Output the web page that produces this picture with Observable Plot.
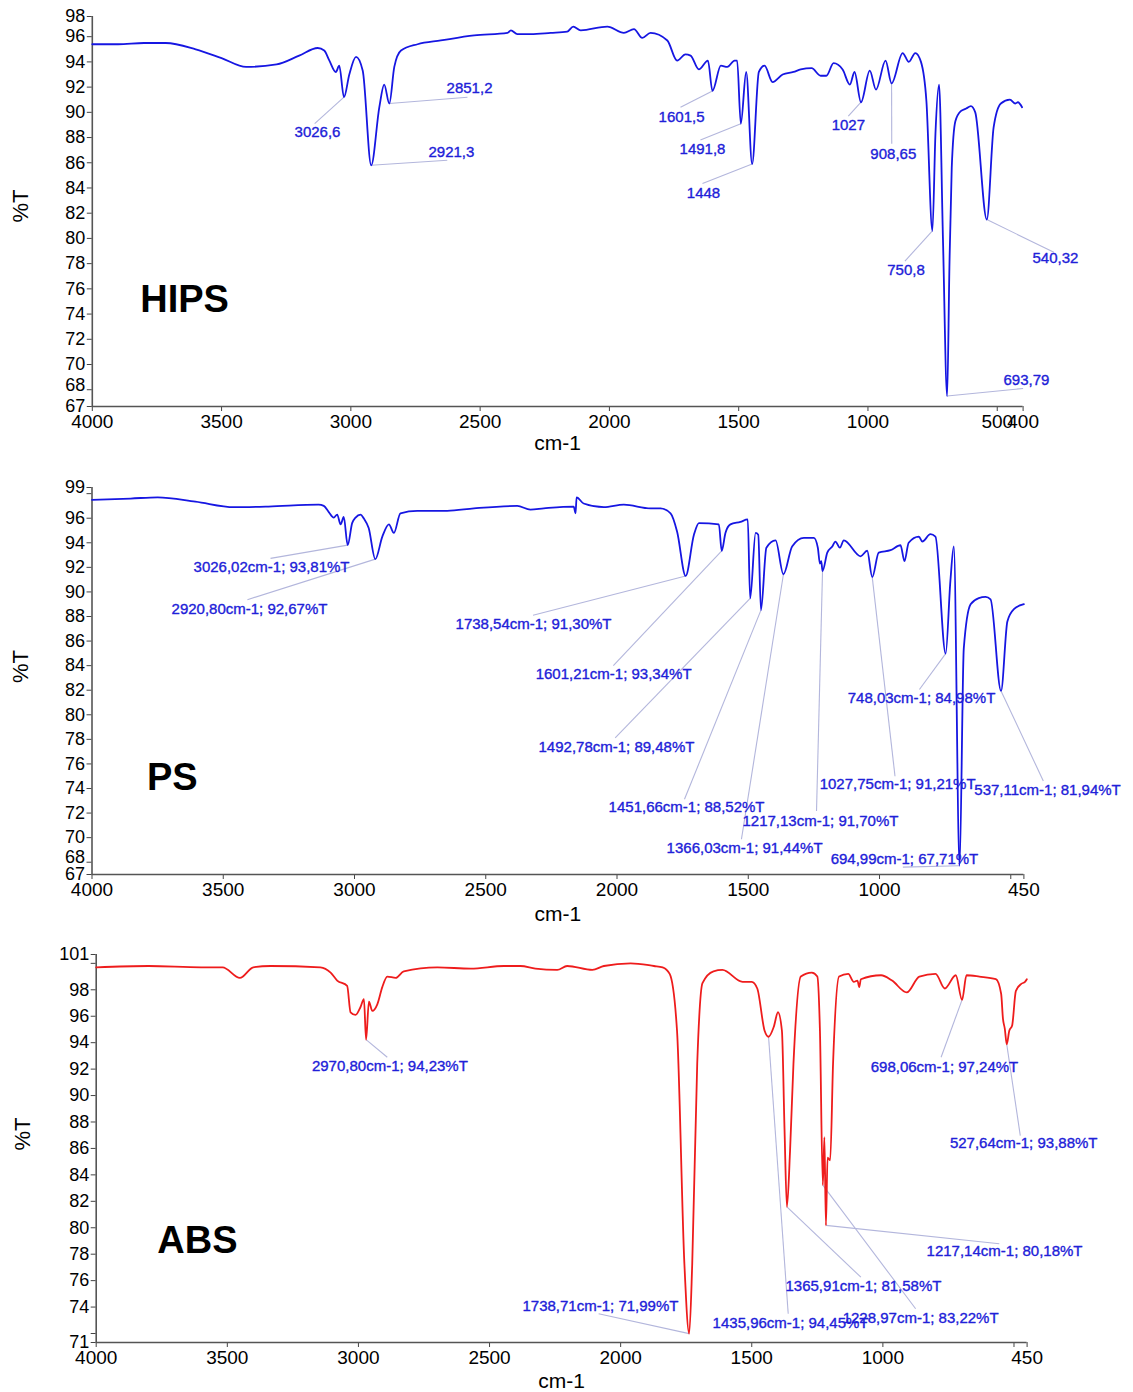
<!DOCTYPE html>
<html><head><meta charset="utf-8">
<script src="https://cdn.jsdelivr.net/npm/d3@7"></script>
<script src="https://cdn.jsdelivr.net/npm/@observablehq/plot@0.6"></script>
<style>
body{margin:0;background:#fff;width:1133px;}
#chart svg{display:block;}
</style></head><body><div id="chart"></div>
<script>
// ---------- HIPS ----------
const hipsWave = [4000,3900,3800,3716,3600,3500,3405,3287,3200,3128,3103,3083,3058,3045,3026.6,3006,2980,2954,2921.3,2890,2871,2851.2,2832,2806,2742,2652,2523,2394,2381,2356,2304,2227,2163,2140,2111,2008,1944,1905,1873,1841,1776,1738,1706,1686,1654,1619,1601.5,1569,1544,1516,1506,1491.8,1471,1448,1422,1400,1369,1330,1288,1260,1218,1183,1161,1133,1098,1070,1052,1027,993,969,932,908.65,866,842,817,795,774,750.8,739,725,710,693.79,685,676,662,641,620,602,585,540.32,514,486,451,430,420,404];
const hipsT = [95.4,95.4,95.5,95.5,95.0,94.3,93.6,93.8,94.5,95.1,94.9,94.1,93.2,93.7,91.2,93.0,94.4,93.3,85.8,90.4,92.2,90.7,93.6,94.9,95.4,95.7,96.1,96.3,96.5,96.2,96.2,96.3,96.4,96.8,96.5,96.8,96.3,96.6,95.9,96.3,95.7,94.1,94.6,94.5,93.4,94.1,91.7,93.7,93.6,94.1,94.1,89.1,93.2,85.9,93.2,93.7,92.4,93.0,93.2,93.4,93.5,92.9,92.9,93.9,93.4,92.2,93.2,90.8,93.3,91.8,94.1,92.3,94.7,94.0,94.7,94.0,90.9,80.6,88.3,92.2,80.0,67.5,77.7,85.6,89.3,90.1,90.3,90.5,90.0,81.5,88.8,90.7,91.0,90.7,90.8,90.4];
const hipsLabels = ["3026,6","2921,3","2851,2","1601,5","1491,8","1448","1027","908,65","750,8","540,32","693,79"];
const hipsPeakWave = [3026.6,2921.3,2851.2,1601.5,1491.8,1448,1027,908.65,750.8,540.32,693.79];
const hipsPeakT = [91.2,85.8,90.7,91.7,89.1,85.9,90.8,92.3,80.6,81.5,67.5];
const hipsLeadWave = [3140,2627,2549,1725,1648,1640,1076,908,857,281,400];
const hipsLeadT = [89.1,86.2,91.2,90.4,87.8,84.35,89.7,87.5,78.2,78.9,68.1];
const hipsLabelWave = [3129,2611,2541,1721,1640,1636,1076,902,853,275,387];
const hipsLabelT = [88.4,86.8,91.9,89.6,87.1,83.55,89.0,86.65,77.5,78.4,68.75];
const hipsXTicks = [4000,3500,3000,2500,2000,1500,1000,500,400];
const hipsXTickLabels = ["4000","3500","3000","2500","2000","1500","1000","500","400"];
const hipsYTicks = [66.67,68,70,72,74,76,78,80,82,84,86,88,90,92,94,96,97.6];
const hipsYTickLabels = ["67","68","70","72","74","76","78","80","82","84","86","88","90","92","94","96","98"];

// ---------- PS ----------
const psWave = [4000,3853,3750,3606,3459,3328,3137,3117,3098,3079,3066,3053,3041,3026.02,3009,2996,2977,2965,2946,2920.8,2894,2869,2850,2825,2761,2647,2545,2380,2330,2279,2165,2158,2154,2127,2050,1974,1872,1834,1796,1771,1738.54,1707,1688,1612,1601.21,1587,1568,1530,1502,1492.78,1472,1462,1451.66,1431,1396,1366.03,1333,1288,1250,1235,1227,1222,1217.13,1199,1180,1168,1151,1136,1072,1047,1027.75,1003,958,920,905,889,850,837,806,787,748.03,730,717,694.99,679,653,622,596,577,537.11,513,488,450];
const psT = [97.5,97.6,97.7,97.35,96.9,96.95,97.1,97.0,96.5,96.05,96.3,95.5,96.1,93.81,95.6,96.05,96.3,96.0,95.2,92.67,94.5,95.5,94.8,96.4,96.6,96.6,96.8,97.0,96.7,96.8,96.95,96.4,97.7,97.2,96.9,97.1,96.8,96.8,96.4,94.9,91.3,94.65,95.6,95.5,93.34,94.8,95.5,95.7,95.9,89.48,94.8,94.65,88.52,93.6,94.2,91.44,93.7,94.4,94.4,93.6,92.3,92.5,91.7,93.2,93.7,94.1,93.6,94.2,92.9,93.35,91.21,93.2,93.4,93.8,92.5,94.0,94.5,94.1,94.7,94.5,84.98,90.9,93.7,67.71,85.4,89.0,89.5,89.6,89.4,81.94,87.6,88.6,89.0];
const psLabels = ["3026,02cm-1; 93,81%T","2920,80cm-1; 92,67%T","1738,54cm-1; 91,30%T","1601,21cm-1; 93,34%T","1492,78cm-1; 89,48%T","1451,66cm-1; 88,52%T","1366,03cm-1; 91,44%T","1217,13cm-1; 91,70%T","1027,75cm-1; 91,21%T","748,03cm-1; 84,98%T","537,11cm-1; 81,94%T","694,99cm-1; 67,71%T"];
const psPeakWave = [3026.02,2920.8,1738.54,1601.21,1492.78,1451.66,1366.03,1217.13,1027.75,748.03,537.11,694.99];
const psPeakT = [93.81,92.67,91.3,93.34,89.48,88.52,91.44,91.7,91.21,84.98,81.94,67.71];
const psLeadWave = [3320,3408,2320,2014,2007,1743,1526,1240,941,848,376,911];
const psLeadT = [92.73,89.37,88.1,84.0,78.13,73.12,69.87,72.17,75.0,82.06,74.61,67.6];
const psLabelWave = [3316,3400,2318,2013,2002,1735,1514,1225,931,840,360,905];
const psLabelT = [92.0,88.6,87.36,83.3,77.37,72.5,69.17,71.36,74.37,81.35,73.9,68.27];
const psXTicks = [4000,3500,3000,2500,2000,1500,1000,500,450];
const psXTickLabels = ["4000","3500","3000","2500","2000","1500","1000","","450"];
const psYTicks = [67,68,70,72,74,76,78,80,82,84,86,88,90,92,94,96,98,98.5];
const psYTickLabels = ["67","68","70","72","74","76","78","80","82","84","86","88","90","92","94","96","","99"];

// ---------- ABS ----------
const absWave = [4000,3800,3600,3518,3452,3401,3335,3145,3106,3081,3043,3030,3011,2992,2979,2970.8,2960,2947,2928,2909,2890,2858,2827,2699,2572,2445,2382,2325,2242,2204,2108,2064,1962,1873,1840,1813,1785,1757,1738.71,1727,1708,1688,1646,1612,1535,1500,1479,1451,1435.96,1416,1400,1385,1375,1365.91,1354,1341,1313,1271,1250,1240,1228.97,1223,1217.14,1211,1201,1190,1167,1132,1111,1097,1090,1084,1007,965,909,861,799,764,722,698.06,681,632,569,549,542,535,527.64,518,507,493,472,458,451];
const absT = [99.7,99.8,99.7,99.7,98.9,99.7,99.8,99.7,99.3,98.7,98.3,96.3,96.1,96.7,97.3,94.23,97.1,96.4,96.9,98.2,99.0,98.9,99.4,99.7,99.6,99.8,99.8,99.6,99.5,99.8,99.5,99.8,100.0,99.8,99.7,99.2,94.9,77.3,71.99,77.3,92.4,98.5,99.4,99.5,98.6,98.6,98.1,94.9,94.45,95.2,96.3,94.9,87.4,81.58,85.8,92.4,99.0,99.3,99.0,94.9,83.22,86.85,80.18,85.3,85.1,92.4,99.0,99.2,98.6,98.7,98.2,98.8,99.1,98.7,97.8,99.0,99.2,98.1,99.1,97.24,99.1,99.0,98.8,97.7,95.8,95.05,93.88,94.9,95.3,97.9,98.45,98.6,98.8,98.65];
const absLabels = ["2970,80cm-1; 94,23%T","1738,71cm-1; 71,99%T","1435,96cm-1; 94,45%T","1365,91cm-1; 81,58%T","1228,97cm-1; 83,22%T","1217,14cm-1; 80,18%T","698,06cm-1; 97,24%T","527,64cm-1; 93,88%T"];
const absPeakWave = [2970.8,1738.71,1435.96,1365.91,1228.97,1217.14,698.06,527.64];
const absPeakT = [94.23,71.99,94.45,81.58,83.22,80.18,97.24,93.88];
const absLeadWave = [2890,2084,1361,1084,875,556,778,476];
const absLeadT = [92.9,73.49,73.49,76.26,73.87,78.79,92.9,86.97];
const absLabelWave = [2880,2077,1352,1074,856,536,765,463];
const absLabelT = [92.2,74.1,72.76,75.56,73.13,78.2,92.12,86.37];
const absXTicks = [4000,3500,3000,2500,2000,1500,1000,500,450];
const absXTickLabels = ["4000","3500","3000","2500","2000","1500","1000","","450"];
const absYTicks = [71.32,72,74,76,78,80,82,84,86,88,90,92,94,96,98,100,100.67];
const absYTickLabels = ["71","","74","76","78","80","82","84","86","88","90","92","94","96","98","","101"];

const panels = [
  {name:"HIPS", wave:hipsWave, t:hipsT, color:"#1616e2", labels:hipsLabels, pw:hipsPeakWave, pt:hipsPeakT, lw:hipsLeadWave, lt:hipsLeadT, tw:hipsLabelWave, tt:hipsLabelT,
   xTicks:hipsXTicks, xTickLabels:hipsXTickLabels, yTicks:hipsYTicks, yTickLabels:hipsYTickLabels, raise:68, raiseDy:-4,
   xDomain:[4000,400], yDomain:[66.67,97.6], height:465, mt:16, mb:59, ml:91.8, mr:110.4, nameW:3643, nameT:75.1, ylabDy:11, ylabDx:-71, xlabDy:37},
  {name:"PS", wave:psWave, t:psT, color:"#1616e2", labels:psLabels, pw:psPeakWave, pt:psPeakT, lw:psLeadWave, lt:psLeadT, tw:psLabelWave, tt:psLabelT,
   xTicks:psXTicks, xTickLabels:psXTickLabels, yTicks:psYTicks, yTickLabels:psYTickLabels, raise:68, raiseDy:-5,
   xDomain:[4000,450], yDomain:[67,98.5], height:465, mt:22, mb:56, ml:91.5, mr:109.6, nameW:3694, nameT:74.9, ylabDy:2, ylabDx:-71, xlabDy:40},
  {name:"ABS", wave:absWave, t:absT, color:"#ee1c1c", labels:absLabels, pw:absPeakWave, pt:absPeakT, lw:absLeadWave, lt:absLeadT, tw:absLabelWave, tt:absLabelT,
   xTicks:absXTicks, xTickLabels:absXTickLabels, yTicks:absYTicks, yTickLabels:absYTickLabels, raise:null, raiseDy:0,
   xDomain:[4000,450], yDomain:[71.32,100.67], height:462, mt:24, mb:50, ml:95.7, mr:106.4, nameW:3614, nameT:79.0, ylabDy:2, ylabDx:-73, xlabDy:39}
];

const font = "'Liberation Sans', Arial, Helvetica, sans-serif";
const root = document.getElementById("chart");

for (const p of panels) {
  const rows = p.wave.map((w, i) => ({w, t: p.t[i]}));
  const ann = p.labels.map((s, i) => ({s, pw: p.pw[i], pt: p.pt[i], lw: p.lw[i], lt: p.lt[i], tw: p.tw[i], tt: p.tt[i]}));
  const xl = new Map(p.xTicks.map((v, i) => [v, p.xTickLabels[i]]));
  const yl = new Map(p.yTicks.map((v, i) => [v, p.yTickLabels[i]]));
  const mainTicks = p.yTicks.filter(v => v !== p.raise);
  const raisedTicks = p.yTicks.filter(v => v === p.raise);
  const chart = Plot.plot({
    width: 1133, height: p.height,
    marginTop: p.mt, marginBottom: p.mb, marginLeft: p.ml, marginRight: p.mr,
    style: {fontFamily: font, fontSize: "19px", color: "#000", background: "#fff", overflow: "visible"},
    x: {domain: p.xDomain, axis: null},
    y: {domain: p.yDomain, axis: null},
    marks: [
      Plot.axisX({ticks: p.xTicks, tickFormat: d => xl.get(d), tickSize: 5, tickPadding: 3, label: null, stroke: "#444"}),
      Plot.axisY({ticks: p.yTicks, tickFormat: () => "", tickSize: 5, label: null, stroke: "#444"}),
      Plot.axisY({ticks: mainTicks, tickFormat: d => yl.get(d), tickSize: 0, tickPadding: 7, fontSize: 18, label: null}),
      Plot.axisY({ticks: raisedTicks, tickFormat: d => yl.get(d), tickSize: 0, tickPadding: 7, fontSize: 18, dy: p.raiseDy, label: null}),
      Plot.ruleX([p.xDomain[0]], {stroke: "#555", strokeWidth: 1.6}),
      Plot.ruleY([p.yDomain[0]], {stroke: "#555", strokeWidth: 1.6}),
      Plot.link(ann, {x1: "pw", y1: "pt", x2: "lw", y2: "lt", stroke: "#b3b6dc", strokeWidth: 1.1}),
      Plot.line(rows, {x: "w", y: "t", stroke: p.color, strokeWidth: 1.8, curve: "monotone-x"}),
      Plot.text(ann, {x: "tw", y: "tt", text: "s", fill: "#2020d8", stroke: "#2020d8", strokeWidth: 0.35, fontSize: 15, textAnchor: "middle", lineAnchor: "middle"}),
      Plot.text([p.name], {x: () => p.nameW, y: () => p.nameT, text: d => d, fontSize: 38, fontWeight: "bold", fill: "#000", textAnchor: "middle", lineAnchor: "middle"}),
      Plot.text(["%T"], {frameAnchor: "left", dx: p.ylabDx, dy: p.ylabDy, rotate: -90, text: d => d, fontSize: 22, fill: "#000"}),
      Plot.text(["cm-1"], {frameAnchor: "bottom", dy: p.xlabDy, text: d => d, fontSize: 21, fill: "#000", lineAnchor: "middle"})
    ]
  });
  root.appendChild(chart);
}
</script>
</body></html>
